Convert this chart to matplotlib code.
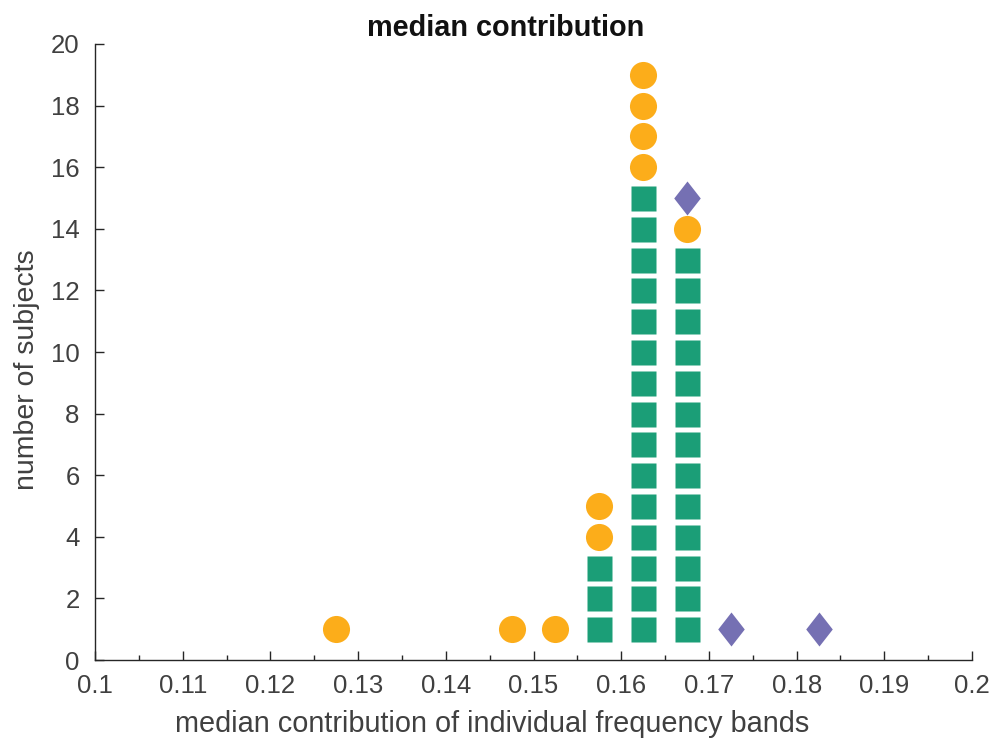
import numpy as np
import matplotlib.pyplot as plt
from matplotlib.path import Path

plt.rcParams['font.family'] = ['Liberation Sans', 'DejaVu Sans']

# bin centres and how many subjects of each kind fall in each bin
bins = [0.1275, 0.1475, 0.1525, 0.1575, 0.1625, 0.1675, 0.1725, 0.1825]
n_square = [0, 0, 0, 3, 15, 13, 0, 0]
n_circle = [1, 1, 1, 2, 4, 1, 0, 0]
n_diamond = [0, 0, 0, 0, 0, 1, 1, 1]

green = '#1b9e77'
orange = '#fcad1a'
purple = '#7570b3'
txt = '#404040'

diamond = Path([(0, 1), (0.78, 0), (0, -1), (-0.78, 0), (0, 1)],
               [Path.MOVETO, Path.LINETO, Path.LINETO, Path.LINETO, Path.CLOSEPOLY])

fig = plt.figure(figsize=(9.94, 7.45), dpi=100)
ax = fig.add_axes([0.0956, 0.114, 0.8823, 0.827])

for x, ns, nc, nd in zip(bins, n_square, n_circle, n_diamond):
    ys = np.arange(1, ns + 1)
    yc = np.arange(ns + 1, ns + nc + 1)
    yd = np.arange(ns + nc + 1, ns + nc + nd + 1)
    ax.plot([x] * len(ys), ys, 's', color=green, ms=18, mec='none')
    ax.plot([x] * len(yc), yc, 'o', color=orange, ms=19.5, mec='none')
    ax.plot([x] * len(yd), yd, marker=diamond, ls='none', color=purple, ms=24.5, mec='none')

ax.set_xlim(0.1, 0.2)
ax.set_ylim(0, 20)
ax.set_xticks(np.arange(0.1, 0.2001, 0.01))
ax.set_xticklabels(['0.1', '0.11', '0.12', '0.13', '0.14', '0.15', '0.16',
                    '0.17', '0.18', '0.19', '0.2'])
ax.set_xticks(np.arange(0.105, 0.2, 0.01), minor=True)
ax.set_yticks(np.arange(0, 21, 2))

for s in ['top', 'right']:
    ax.spines[s].set_visible(False)
for s in ['left', 'bottom']:
    ax.spines[s].set_color('#262626')
    ax.spines[s].set_linewidth(1.0)

ax.tick_params(which='both', direction='in', colors='#262626', labelcolor=txt,
               labelsize=18.5, width=1.0)
ax.tick_params(which='major', length=6.5)
ax.tick_params(which='minor', length=3.4)
ax.tick_params(axis='x', pad=10)
ax.tick_params(axis='y', pad=11)

ax.set_xlabel('median contribution of individual frequency bands', fontsize=20.8,
              color=txt, labelpad=9, x=0.4527)
ax.set_ylabel('number of subjects', fontsize=20.5, color=txt, labelpad=8, y=0.471)
ax.set_title('median contribution', fontsize=20.8, fontweight='bold', color='#111111',
             pad=6, x=0.4686)

fig.savefig('out.png', dpi=100)
